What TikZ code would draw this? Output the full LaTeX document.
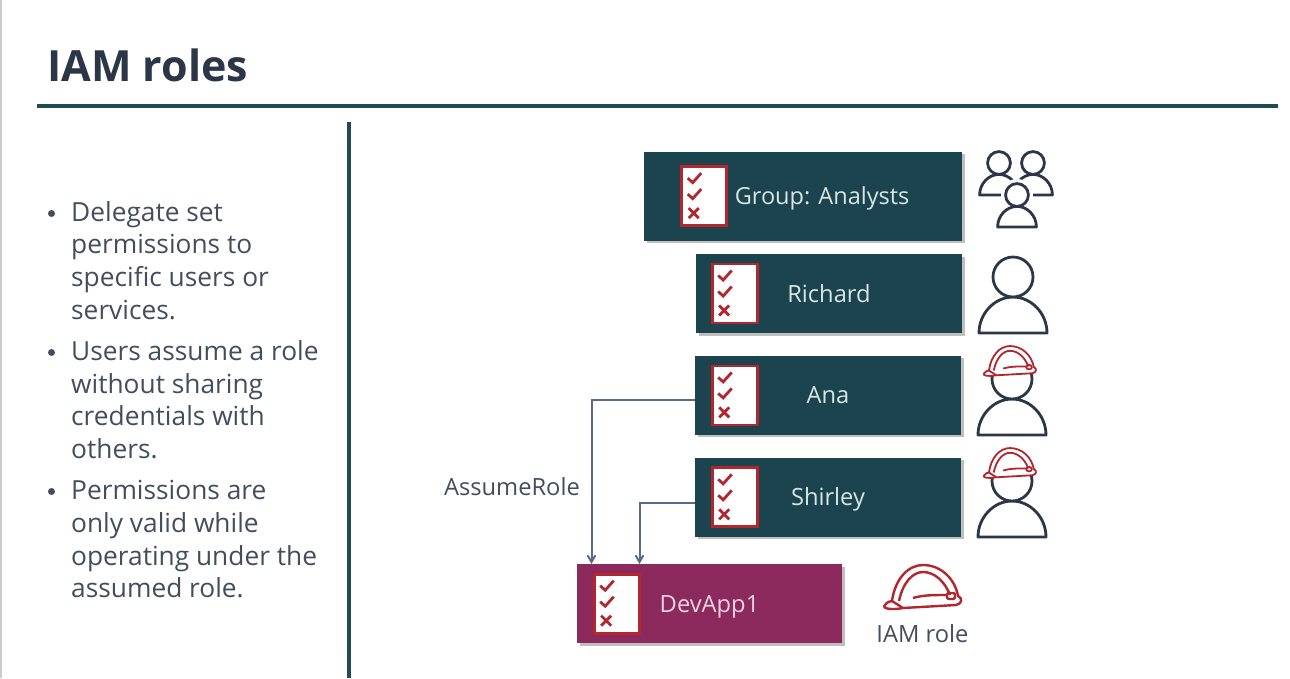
\documentclass[tikz,border=0pt]{standalone}
\usepackage{fontspec}
\setmainfont{Open Sans}
\usetikzlibrary{arrows,positioning,shadows}

\definecolor{tealbox}{HTML}{1C444F}
\definecolor{plumbox}{HTML}{8C2A5E}
\definecolor{tealtext}{HTML}{D6E6E6}
\definecolor{plumtext}{HTML}{EAD3E3}
\definecolor{permred}{HTML}{B3262E}
\definecolor{inkdark}{HTML}{2B3747}
\definecolor{bodyink}{HTML}{434D5C}
\definecolor{ruleteal}{HTML}{1F4B53}
\definecolor{linkblue}{HTML}{5A6B86}

\tikzset{
  rolebox/.style={rectangle, fill=#1, minimum height=79pt, inner sep=0pt,
    drop shadow={shadow xshift=2.5pt, shadow yshift=-2.5pt, opacity=0.25, fill=black}},
  userbox/.style={rolebox=tealbox, minimum width=266pt, text=tealtext, text height=17pt, text depth=0pt, font=\fontsize{23.7}{27}\selectfont},
  appbox/.style={rolebox=plumbox, minimum width=265pt, text=plumtext, text height=17pt, text depth=0pt, font=\fontsize{23.7}{27}\selectfont},
  checklist/.style={rectangle, draw=permred, line width=2.8pt, fill=white, inner sep=0pt,
    minimum width=45pt, minimum height=59pt,
    path picture={
      \begin{scope}[shift={(path picture bounding box.center)}, draw=permred, line width=2.8pt]
        \draw (-16.5,-18) -- (-11.5,-13.5) -- (-3,-23);
        \draw (-16.5,-2) -- (-11.5,2.5) -- (-3,-7);
        \draw (-15.5,12) -- (-5.5,22) (-5.5,12) -- (-15.5,22);
      \end{scope}}},
  bodytext/.style={align=left, inner sep=0pt, text=bodyink, font=\fontsize{26.3}{32.7}\selectfont},
  bulletdot/.style={circle, fill=bodyink, minimum size=7pt, inner sep=0pt},
  plaintext/.style={inner sep=0pt, text=bodyink, font=\fontsize{23.7}{27}\selectfont},
  assume/.style={draw=linkblue, line width=2pt, ->, >=angle 60},
  hrule/.style={draw=ruleteal, line width=4pt},
  person/.pic={
    \draw[draw=inkdark, line width=2.8pt, fill=white, line join=round]
      (-34,56) .. controls (-34,36) and (-18,20) .. (0,20)
      .. controls (18,20) and (34,36) .. (34,56) -- cycle;
    \draw[draw=inkdark, line width=2.8pt, fill=white] (0,0) circle (20);
  },
  hardhat/.pic={
    \draw[draw=permred, line width=#1, fill=white, line join=round]
      (-31,14) .. controls (-28,-8) and (-15,-22) .. (0,-22)
      .. controls (18,-22) and (32,-8) .. (35,9)
      .. controls (40,11) and (39,17) .. (33,18)
      -- (-20,21) .. controls (-30,23) and (-42,22) .. (-38,18)
      .. controls (-36,15) and (-33,14) .. (-31,14) -- cycle;
    \draw[draw=permred, line width=#1]
      (-10,11) .. controls (0,8) and (10,8) .. (24,8)
      (-24,14) .. controls (-20,-5) and (-10,-15) .. (0,-15)
      .. controls (12,-15) and (22,-5) .. (27,8)
      (-31,14) -- (-20,21);
    \draw[draw=permred, line width=#1, rounded corners=2pt] (24,6) rectangle (32,12);
  },
}

\begin{document}
\begin{tikzpicture}[x=1pt, y=-1pt]
  \useasboundingbox (0,0) rectangle (1290,678);
  \fill[black!20] (0,0) rectangle (1.5,678);

  % title and rules
  \node[anchor=base west, inner sep=0pt, text=inkdark, font=\fontsize{43}{50}\selectfont\bfseries] (title) at (47,81) {IAM roles};
  \coordinate (ruleleft) at (37,106);
  \coordinate (ruleright) at (1278,106);
  \draw[hrule] (ruleleft) -- (ruleright);
  \coordinate (dividertop) at (349,122);
  \coordinate (dividerbottom) at (349,678);
  \draw[hrule] (dividertop) -- (dividerbottom);

  % left column
  \node[bodytext, anchor=north west] (delegate) at (71,201) {Delegate set\\permissions to\\specific users or\\services.};
  \node[bodytext, below=20.5pt of delegate.south west, anchor=north west] (assumerole) {Users assume a role\\without sharing\\credentials with\\others.};
  \node[bodytext, below=21pt of assumerole.south west, anchor=north west] (validonly) {Permissions are\\only valid while\\operating under the\\assumed role.};
  \node[bulletdot] (dotone) at (51.5,213.5) {};
  \node[bulletdot] (dottwo) at (51.5,352.5) {};
  \node[bulletdot] (dotthree) at (51.5,491.5) {};

  % boxes
  \node[userbox] (richard) at (829,293.5) {Richard};
  \node[userbox, below=22.5pt of richard, xshift=-1pt] (ana) {Ana};
  \node[userbox, below=22.5pt of ana] (shirley) {Shirley};
  \node[appbox, below=27pt of shirley, xshift=-118.5pt] (devapp) {DevApp1};
  \node[rolebox=tealbox, minimum width=318pt, minimum height=89pt, above=13pt of richard, xshift=-26pt] (analysts) {};

  % checklists
  \node[checklist, right=36.5pt of analysts.west] (analystscheck) {};
  \node[checklist, right=15pt of richard.west] (richardcheck) {};
  \node[checklist, right=16pt of ana.west] (anacheck) {};
  \node[checklist, right=16pt of shirley.west] (shirleycheck) {};
  \node[checklist, right=16pt of devapp.west] (devappcheck) {};
  \node[right=6.5pt of analystscheck, yshift=-2pt, text=tealtext, inner sep=0pt, font=\fontsize{23.5}{27}\selectfont] (analystslabel) {Group: Analysts};

  % icons
  \pic[scale=0.57] at (999,163) {person};
  \pic[scale=0.57] at (1033,163) {person};
  \fill[white] (1017,195) circle (16);
  \pic[scale=0.57] at (1017,195) {person};
  \pic at (1013,277) {person};
  \pic at (1012,379) {person};
  \pic at (1012,481) {person};
  \pic[scale=0.68] at (1010,361) {hardhat=1.8pt};
  \pic[scale=0.68] at (1010,463) {hardhat=1.8pt};
  \pic at (923,587) {hardhat=2.4pt};

  % labels
  \node[plaintext, right=30pt of devapp.east, yshift=-30pt, xshift=4pt] (iamrole) {IAM role};
  \node[plaintext, left=11pt of devapp.north, xshift=-118.5pt, yshift=77pt] (assumelabel) {AssumeRole};

  % edges
  \draw[assume] ([yshift=-4.5pt]ana.west) -| ([xshift=-118pt]devapp.north);
  \draw[assume] ([yshift=-5.5pt]shirley.west) -| ([xshift=-70pt]devapp.north);
\end{tikzpicture}
\end{document}
